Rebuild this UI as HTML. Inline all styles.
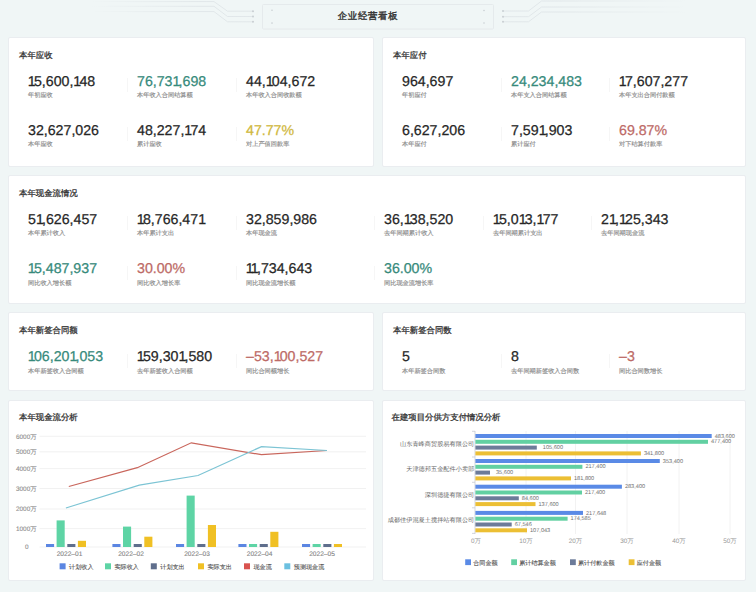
<!DOCTYPE html>
<html><head><meta charset="utf-8">
<style>
*{margin:0;padding:0;box-sizing:border-box}
html,body{width:756px;height:592px;overflow:hidden}
body{text-rendering:geometricPrecision;background:#f0f6f6;font-family:"Liberation Sans",sans-serif;position:relative;color:#2b2b2b}
i{font-style:normal}
.card{position:absolute;background:#fff;border-radius:2px;border:1px solid #eaedf0}
.t{position:absolute;-webkit-text-stroke:0.3px currentColor;font-size:8.4px;font-weight:400;color:#363636;white-space:nowrap;line-height:1}
.n{position:absolute;font-size:14.2px;color:#262626;white-space:nowrap;line-height:1;-webkit-text-stroke:0.25px currentColor}
.l{position:absolute;-webkit-text-stroke:0.15px currentColor;font-size:6.2px;color:#8a8a8a;white-space:nowrap;line-height:1}
.d{position:absolute;width:1px;height:14px;background:#f6f6f6}
.g{color:#368a7b}
.y{color:#d0b83c}
.r{color:#bd6a66}
</style></head><body>
<svg style="position:absolute;left:0;top:0" width="756" height="37">
 <defs>
  <linearGradient id="gl" gradientUnits="userSpaceOnUse" x1="90" x2="200" y1="0" y2="0"><stop offset="0" stop-color="#dde3e6" stop-opacity="0"/><stop offset="1" stop-color="#dde3e6"/></linearGradient>
  <linearGradient id="gr" gradientUnits="userSpaceOnUse" x1="560" x2="690" y1="0" y2="0"><stop offset="0" stop-color="#dde3e6"/><stop offset="1" stop-color="#dde3e6" stop-opacity="0"/></linearGradient>
 </defs>
 <g fill="none" stroke="url(#gl)" stroke-width="0.8">
  <path d="M90 1.6 H214 L227.5 11.2 H253"/>
  <path d="M90 6.3 H214 L227.5 16.5 H253"/>
  <path d="M90 11.6 H214 L227.5 21.8 H253"/>
 </g>
 <g fill="none" stroke="url(#gr)" stroke-width="0.8">
  <path d="M503 11 H528.5 L541.5 1 H690"/>
  <path d="M503 16.7 H528.5 L541.5 7 H690"/>
  <path d="M503 21.8 H528.5 L541.5 12 H690"/>
 </g>
 <g fill="#c9cfd3">
  <circle cx="253" cy="11.2" r="1"/><circle cx="253" cy="16.5" r="1"/><circle cx="253" cy="21.8" r="1"/>
  <circle cx="503" cy="11" r="1"/><circle cx="503" cy="16.7" r="1"/><circle cx="503" cy="21.8" r="1"/>
  <circle cx="272" cy="10.3" r="0.8"/><circle cx="272" cy="23.1" r="0.8"/>
  <circle cx="484" cy="10.5" r="0.8"/><circle cx="484" cy="23" r="0.8"/>
 </g>
 <rect x="262.5" y="4.5" width="231" height="24.5" rx="1" fill="none" stroke="#e2e7ea" stroke-width="0.8"/>
</svg>
<div class="t" style="left:337.8px;top:11px;font-size:9.4px;letter-spacing:0.7px;color:#383838;-webkit-text-stroke:0.4px #383838">企业经营看板</div>
<div class="card" style="left:8px;top:37px;width:366px;height:130px"></div>
<div class="t" style="left:19px;top:51px">本年应收</div>
<div class="n " style="left:28px;top:74.9px"><i style="letter-spacing:-1.8px;margin-left:-0.2px">1</i>5,600,<i style="letter-spacing:-1.8px;margin-left:0px">1</i>48</div>
<div class="l" style="left:28px;top:93px">年初应收</div>
<div class="d" style="left:127px;top:78px"></div>
<div class="n g" style="left:137px;top:74.9px">76,73<i style="letter-spacing:-1.8px;margin-left:0px">1</i>,698</div>
<div class="l" style="left:137px;top:93px">本年收入合同结算额</div>
<div class="d" style="left:236px;top:78px"></div>
<div class="n " style="left:246px;top:74.9px">44,<i style="letter-spacing:-1.8px;margin-left:0px">1</i>04,672</div>
<div class="l" style="left:246px;top:93px">本年收入合同收款额</div>
<div class="n " style="left:28px;top:123.9px">32,627,026</div>
<div class="l" style="left:28px;top:142px">本年应收</div>
<div class="d" style="left:127px;top:127px"></div>
<div class="n " style="left:137px;top:123.9px">48,227,<i style="letter-spacing:-1.8px;margin-left:0px">1</i>74</div>
<div class="l" style="left:137px;top:142px">累计应收</div>
<div class="d" style="left:236px;top:127px"></div>
<div class="n y" style="left:246px;top:123.9px">47.77%</div>
<div class="l" style="left:246px;top:142px">对上产值回款率</div>
<div class="card" style="left:382px;top:37px;width:364px;height:130px"></div>
<div class="t" style="left:393px;top:51px">本年应付</div>
<div class="n " style="left:402px;top:74.9px">964,697</div>
<div class="l" style="left:402px;top:93px">年初应付</div>
<div class="d" style="left:501px;top:78px"></div>
<div class="n g" style="left:511px;top:74.9px">24,234,483</div>
<div class="l" style="left:511px;top:93px">本年支入合同结算额</div>
<div class="d" style="left:609px;top:78px"></div>
<div class="n " style="left:619px;top:74.9px"><i style="letter-spacing:-1.8px;margin-left:-0.2px">1</i>7,607,277</div>
<div class="l" style="left:619px;top:93px">本年支出合同付款额</div>
<div class="n " style="left:402px;top:123.9px">6,627,206</div>
<div class="l" style="left:402px;top:142px">本年应付</div>
<div class="d" style="left:501px;top:127px"></div>
<div class="n " style="left:511px;top:123.9px">7,59<i style="letter-spacing:-1.8px;margin-left:0px">1</i>,903</div>
<div class="l" style="left:511px;top:142px">累计应付</div>
<div class="d" style="left:609px;top:127px"></div>
<div class="n r" style="left:619px;top:123.9px">69.87%</div>
<div class="l" style="left:619px;top:142px">对下结算付款率</div>
<div class="card" style="left:8px;top:175px;width:738px;height:129px"></div>
<div class="t" style="left:19px;top:189px">本年现金流情况</div>
<div class="n " style="left:28px;top:212.9px">5<i style="letter-spacing:-1.8px;margin-left:0px">1</i>,626,457</div>
<div class="l" style="left:28px;top:231px">本年累计收入</div>
<div class="d" style="left:127px;top:216px"></div>
<div class="n " style="left:137px;top:212.9px"><i style="letter-spacing:-1.8px;margin-left:-0.2px">1</i>8,766,47<i style="letter-spacing:-1.8px;margin-left:0px">1</i></div>
<div class="l" style="left:137px;top:231px">本年累计支出</div>
<div class="d" style="left:236px;top:216px"></div>
<div class="n " style="left:246px;top:212.9px">32,859,986</div>
<div class="l" style="left:246px;top:231px">本年现金流</div>
<div class="d" style="left:374px;top:216px"></div>
<div class="n " style="left:384px;top:212.9px">36,<i style="letter-spacing:-1.8px;margin-left:0px">1</i>38,520</div>
<div class="l" style="left:384px;top:231px">去年同期累计收入</div>
<div class="d" style="left:483px;top:216px"></div>
<div class="n " style="left:493px;top:212.9px"><i style="letter-spacing:-1.8px;margin-left:-0.2px">1</i>5,0<i style="letter-spacing:-1.8px;margin-left:0px">1</i>3,<i style="letter-spacing:-1.8px;margin-left:0px">1</i>77</div>
<div class="l" style="left:493px;top:231px">去年同期累计支出</div>
<div class="d" style="left:591px;top:216px"></div>
<div class="n " style="left:601px;top:212.9px">2<i style="letter-spacing:-1.8px;margin-left:0px">1</i>,<i style="letter-spacing:-1.8px;margin-left:0px">1</i>25,343</div>
<div class="l" style="left:601px;top:231px">去年同期现金流</div>
<div class="n g" style="left:28px;top:262.4px"><i style="letter-spacing:-1.8px;margin-left:-0.2px">1</i>5,487,937</div>
<div class="l" style="left:28px;top:280.5px">同比收入增长额</div>
<div class="d" style="left:127px;top:265.5px"></div>
<div class="n r" style="left:137px;top:262.4px">30.00%</div>
<div class="l" style="left:137px;top:280.5px">同比收入增长率</div>
<div class="d" style="left:236px;top:265.5px"></div>
<div class="n " style="left:246px;top:262.4px"><i style="letter-spacing:-1.8px;margin-left:-0.2px">1</i><i style="letter-spacing:-1.8px;margin-left:0px">1</i>,734,643</div>
<div class="l" style="left:246px;top:280.5px">同比现金流增长额</div>
<div class="d" style="left:374px;top:265.5px"></div>
<div class="n g" style="left:384px;top:262.4px">36.00%</div>
<div class="l" style="left:384px;top:280.5px">同比现金流增长率</div>
<div class="card" style="left:8px;top:312px;width:366px;height:79px"></div>
<div class="t" style="left:19px;top:325.6px">本年新签合同额</div>
<div class="n g" style="left:28px;top:350.4px"><i style="letter-spacing:-1.8px;margin-left:-0.2px">1</i>06,20<i style="letter-spacing:-1.8px;margin-left:0px">1</i>,053</div>
<div class="l" style="left:28px;top:368.5px">本年新签收入合同额</div>
<div class="d" style="left:127px;top:353.5px"></div>
<div class="n " style="left:137px;top:350.4px"><i style="letter-spacing:-1.8px;margin-left:-0.2px">1</i>59,30<i style="letter-spacing:-1.8px;margin-left:0px">1</i>,580</div>
<div class="l" style="left:137px;top:368.5px">去年新签收入合同额</div>
<div class="d" style="left:236px;top:353.5px"></div>
<div class="n r" style="left:246px;top:350.4px">–53,<i style="letter-spacing:-1.8px;margin-left:0px">1</i>00,527</div>
<div class="l" style="left:246px;top:368.5px">同比合同额增长</div>
<div class="card" style="left:382px;top:312px;width:364px;height:79px"></div>
<div class="t" style="left:393px;top:325.6px">本年新签合同数</div>
<div class="n " style="left:402px;top:350.4px">5</div>
<div class="l" style="left:402px;top:368.5px">本年新签合同数</div>
<div class="d" style="left:501px;top:353.5px"></div>
<div class="n " style="left:511px;top:350.4px">8</div>
<div class="l" style="left:511px;top:368.5px">去年同期新签收入合同数</div>
<div class="d" style="left:609px;top:353.5px"></div>
<div class="n r" style="left:619px;top:350.4px">–3</div>
<div class="l" style="left:619px;top:368.5px">同比合同数增长</div>
<div class="card" style="left:8px;top:400px;width:366px;height:181px"></div>
<div class="t" style="left:19px;top:412.8px">本年现金流分析</div>
<div class="card" style="left:382px;top:400px;width:364px;height:181px"></div>
<div class="t" style="left:391.5px;top:412.8px">在建项目分供方支付情况分析</div>
<svg style="position:absolute;left:0;top:0" width="756" height="592" font-family="Liberation Sans, sans-serif">
<line x1="39.5" x2="366" y1="436.3" y2="436.3" stroke="#eeeeee" stroke-width="0.8"/>
<line x1="39.5" x2="366" y1="451.8" y2="451.8" stroke="#eeeeee" stroke-width="0.8"/>
<line x1="39.5" x2="366" y1="468.6" y2="468.6" stroke="#eeeeee" stroke-width="0.8"/>
<line x1="39.5" x2="366" y1="488.5" y2="488.5" stroke="#eeeeee" stroke-width="0.8"/>
<line x1="39.5" x2="366" y1="509" y2="509" stroke="#eeeeee" stroke-width="0.8"/>
<line x1="39.5" x2="366" y1="528.6" y2="528.6" stroke="#eeeeee" stroke-width="0.8"/>
<line x1="39.5" x2="366" y1="547" y2="547" stroke="#eeeeee" stroke-width="0.8"/>
<text x="36.6" y="438.6" font-size="6.4" fill="#909090" stroke="#909090" stroke-width="0.12" text-anchor="end">6000万</text>
<text x="36.6" y="454.1" font-size="6.4" fill="#909090" stroke="#909090" stroke-width="0.12" text-anchor="end">5000万</text>
<text x="36.6" y="470.90000000000003" font-size="6.4" fill="#909090" stroke="#909090" stroke-width="0.12" text-anchor="end">4000万</text>
<text x="36.6" y="490.8" font-size="6.4" fill="#909090" stroke="#909090" stroke-width="0.12" text-anchor="end">3000万</text>
<text x="36.6" y="511.3" font-size="6.4" fill="#909090" stroke="#909090" stroke-width="0.12" text-anchor="end">2000万</text>
<text x="36.6" y="530.9" font-size="6.4" fill="#909090" stroke="#909090" stroke-width="0.12" text-anchor="end">1000万</text>
<text x="28.6" y="549.3" font-size="6.4" fill="#909090" stroke="#909090" stroke-width="0.12" text-anchor="end">0</text>
<rect x="46.0" y="544" width="8.1" height="3.0" fill="#5b86e2"/>
<rect x="56.6" y="520.4" width="8.1" height="26.6" fill="#5ed4a5"/>
<rect x="67.3" y="544" width="8.1" height="3.0" fill="#5f6e8c"/>
<rect x="77.9" y="540.8" width="8.1" height="6.2" fill="#f0c024"/>
<rect x="112.4" y="544" width="8.1" height="3.0" fill="#5b86e2"/>
<rect x="123.0" y="526.6" width="8.1" height="20.4" fill="#5ed4a5"/>
<rect x="133.7" y="544" width="8.1" height="3.0" fill="#5f6e8c"/>
<rect x="144.3" y="536.7" width="8.1" height="10.3" fill="#f0c024"/>
<rect x="176.0" y="544" width="8.1" height="3.0" fill="#5b86e2"/>
<rect x="186.6" y="495.6" width="8.1" height="51.4" fill="#5ed4a5"/>
<rect x="197.3" y="544" width="8.1" height="3.0" fill="#5f6e8c"/>
<rect x="207.9" y="525" width="8.1" height="22.0" fill="#f0c024"/>
<rect x="238.4" y="544" width="8.1" height="3.0" fill="#5b86e2"/>
<rect x="249.0" y="544" width="8.1" height="3.0" fill="#5ed4a5"/>
<rect x="259.7" y="544" width="8.1" height="3.0" fill="#5f6e8c"/>
<rect x="270.3" y="531.8" width="8.1" height="15.2" fill="#f0c024"/>
<rect x="302.0" y="544" width="8.1" height="3.0" fill="#5b86e2"/>
<rect x="312.6" y="544" width="8.1" height="3.0" fill="#5ed4a5"/>
<rect x="323.3" y="544" width="8.1" height="3.0" fill="#5f6e8c"/>
<rect x="333.9" y="544" width="8.1" height="3.0" fill="#f0c024"/>
<text x="69.5" y="556.3" font-size="6.6" fill="#858585" stroke="#858585" stroke-width="0.12" text-anchor="middle">2022–01</text>
<text x="131" y="556.3" font-size="6.6" fill="#858585" stroke="#858585" stroke-width="0.12" text-anchor="middle">2022–02</text>
<text x="197" y="556.3" font-size="6.6" fill="#858585" stroke="#858585" stroke-width="0.12" text-anchor="middle">2022–03</text>
<text x="259.6" y="556.3" font-size="6.6" fill="#858585" stroke="#858585" stroke-width="0.12" text-anchor="middle">2022–04</text>
<text x="322" y="556.3" font-size="6.6" fill="#858585" stroke="#858585" stroke-width="0.12" text-anchor="middle">2022–05</text>
<polyline fill="none" stroke="#c9665c" stroke-width="1.2" points="68.8,486.5 137.3,467.7 191.3,442.8 261.5,454.7 327,450.5"/>
<polyline fill="none" stroke="#7cc4d4" stroke-width="1.2" points="65.9,508 139.3,485.2 198,475.5 261.5,446.6 327,450.5"/>
<rect x="59.6" y="563.3" width="6" height="6" fill="#5b86e2"/>
<text x="69.1" y="568.8" font-size="6.1" fill="#505050" stroke="#505050" stroke-width="0.1">计划收入</text>
<rect x="105" y="563.3" width="6" height="6" fill="#5ed4a5"/>
<text x="114.5" y="568.8" font-size="6.1" fill="#505050" stroke="#505050" stroke-width="0.1">实际收入</text>
<rect x="150.8" y="563.3" width="6" height="6" fill="#5f6e8c"/>
<text x="160.3" y="568.8" font-size="6.1" fill="#505050" stroke="#505050" stroke-width="0.1">计划支出</text>
<rect x="198" y="563.3" width="6" height="6" fill="#f0c024"/>
<text x="207.5" y="568.8" font-size="6.1" fill="#505050" stroke="#505050" stroke-width="0.1">实际支出</text>
<rect x="244" y="563.3" width="6" height="6" fill="#d9534f"/>
<text x="253.5" y="568.8" font-size="6.1" fill="#505050" stroke="#505050" stroke-width="0.1">现金流</text>
<rect x="284.3" y="563.3" width="6" height="6" fill="#6cc0e0"/>
<text x="293.8" y="568.8" font-size="6.1" fill="#505050" stroke="#505050" stroke-width="0.1">预测现金流</text>
<line x1="526" x2="526" y1="431" y2="534" stroke="#efefef" stroke-width="0.8"/>
<line x1="575.5" x2="575.5" y1="431" y2="534" stroke="#efefef" stroke-width="0.8"/>
<line x1="627" x2="627" y1="431" y2="534" stroke="#efefef" stroke-width="0.8"/>
<line x1="679" x2="679" y1="431" y2="534" stroke="#efefef" stroke-width="0.8"/>
<line x1="730" x2="730" y1="431" y2="534" stroke="#efefef" stroke-width="0.8"/>
<line x1="475" x2="475" y1="431" y2="534" stroke="#c8ccd4" stroke-width="0.8"/>
<line x1="472" x2="475" y1="431.3" y2="431.3" stroke="#c8ccd4" stroke-width="0.8"/>
<line x1="472" x2="475" y1="457" y2="457" stroke="#c8ccd4" stroke-width="0.8"/>
<line x1="472" x2="475" y1="482.3" y2="482.3" stroke="#c8ccd4" stroke-width="0.8"/>
<line x1="472" x2="475" y1="507.8" y2="507.8" stroke="#c8ccd4" stroke-width="0.8"/>
<line x1="472" x2="475" y1="533.4" y2="533.4" stroke="#c8ccd4" stroke-width="0.8"/>
<text x="476" y="543" font-size="6.4" fill="#999" text-anchor="middle">0万</text>
<text x="526" y="543" font-size="6.4" fill="#999" text-anchor="middle">10万</text>
<text x="575.5" y="543" font-size="6.4" fill="#999" text-anchor="middle">20万</text>
<text x="627" y="543" font-size="6.4" fill="#999" text-anchor="middle">30万</text>
<text x="679" y="543" font-size="6.4" fill="#999" text-anchor="middle">40万</text>
<text x="730" y="543" font-size="6.4" fill="#999" text-anchor="middle">50万</text>
<rect x="475.4" y="434.0" width="236.3" height="4" fill="#5a8ae6"/>
<text x="714.7" y="437.6" font-size="5.6" fill="#707070">483,600</text>
<rect x="475.4" y="439.8" width="232.6" height="4" fill="#62d0a2"/>
<text x="711" y="443.4" font-size="5.6" fill="#707070">477,400</text>
<rect x="475.4" y="445.6" width="61.4" height="4" fill="#6c7b99"/>
<text x="542.8" y="449.2" font-size="5.6" fill="#707070">105,600</text>
<rect x="475.4" y="451.4" width="165.5" height="4" fill="#ecbf34"/>
<text x="643.9" y="455.0" font-size="5.6" fill="#707070">341,800</text>
<rect x="475.4" y="459.0" width="184.4" height="4" fill="#5a8ae6"/>
<text x="662.8" y="462.6" font-size="5.6" fill="#707070">353,400</text>
<rect x="475.4" y="464.8" width="107.0" height="4" fill="#62d0a2"/>
<text x="585.4" y="468.4" font-size="5.6" fill="#707070">217,400</text>
<rect x="475.4" y="470.6" width="14.6" height="4" fill="#6c7b99"/>
<text x="496" y="474.2" font-size="5.6" fill="#707070">35,600</text>
<rect x="475.4" y="476.4" width="95.6" height="4" fill="#ecbf34"/>
<text x="574" y="480.0" font-size="5.6" fill="#707070">181,800</text>
<rect x="475.4" y="484.7" width="146.5" height="4" fill="#5a8ae6"/>
<text x="624.9" y="488.3" font-size="5.6" fill="#707070">283,400</text>
<rect x="475.4" y="490.5" width="106.6" height="4" fill="#62d0a2"/>
<text x="585" y="494.1" font-size="5.6" fill="#707070">217,400</text>
<rect x="475.4" y="496.3" width="43.4" height="4" fill="#6c7b99"/>
<text x="521.8" y="499.9" font-size="5.6" fill="#707070">84,600</text>
<rect x="475.4" y="502.1" width="60.1" height="4" fill="#ecbf34"/>
<text x="538.5" y="505.7" font-size="5.6" fill="#707070">137,600</text>
<rect x="475.4" y="510.9" width="107.6" height="4" fill="#5a8ae6"/>
<text x="586" y="514.5" font-size="5.6" fill="#707070">217,648</text>
<rect x="475.4" y="516.7" width="92.2" height="4" fill="#62d0a2"/>
<text x="570.6" y="520.3" font-size="5.6" fill="#707070">174,585</text>
<rect x="475.4" y="522.5" width="36.3" height="4" fill="#6c7b99"/>
<text x="514.7" y="526.1" font-size="5.6" fill="#707070">67,546</text>
<rect x="475.4" y="528.3" width="51.6" height="4" fill="#ecbf34"/>
<text x="530" y="531.9" font-size="5.6" fill="#707070">107,043</text>
<text x="474.3" y="445.8" font-size="6.2" fill="#666" text-anchor="end">山东青峰商贸股易有限公司</text>
<text x="474.3" y="471.4" font-size="6.2" fill="#666" text-anchor="end">天津德邦五金配件小卖部</text>
<text x="474.3" y="496.7" font-size="6.2" fill="#666" text-anchor="end">深圳德捷有限公司</text>
<text x="474.3" y="522.0" font-size="6.2" fill="#666" text-anchor="end">成都佳伊混凝土搅拌站有限公司</text>
<rect x="465.2" y="559.3" width="5.8" height="5.8" fill="#5a8ae6"/>
<text x="473.2" y="564.6" font-size="6.1" fill="#505050" stroke="#505050" stroke-width="0.1">合同金额</text>
<rect x="511.2" y="559.3" width="5.8" height="5.8" fill="#62d0a2"/>
<text x="519.2" y="564.6" font-size="6.1" fill="#505050" stroke="#505050" stroke-width="0.1">累计结算金额</text>
<rect x="570" y="559.3" width="5.8" height="5.8" fill="#6c7b99"/>
<text x="578" y="564.6" font-size="6.1" fill="#505050" stroke="#505050" stroke-width="0.1">累计付款金额</text>
<rect x="628.7" y="559.3" width="5.8" height="5.8" fill="#ecbf34"/>
<text x="636.7" y="564.6" font-size="6.1" fill="#505050" stroke="#505050" stroke-width="0.1">应付金额</text>
</svg>
</body></html>
